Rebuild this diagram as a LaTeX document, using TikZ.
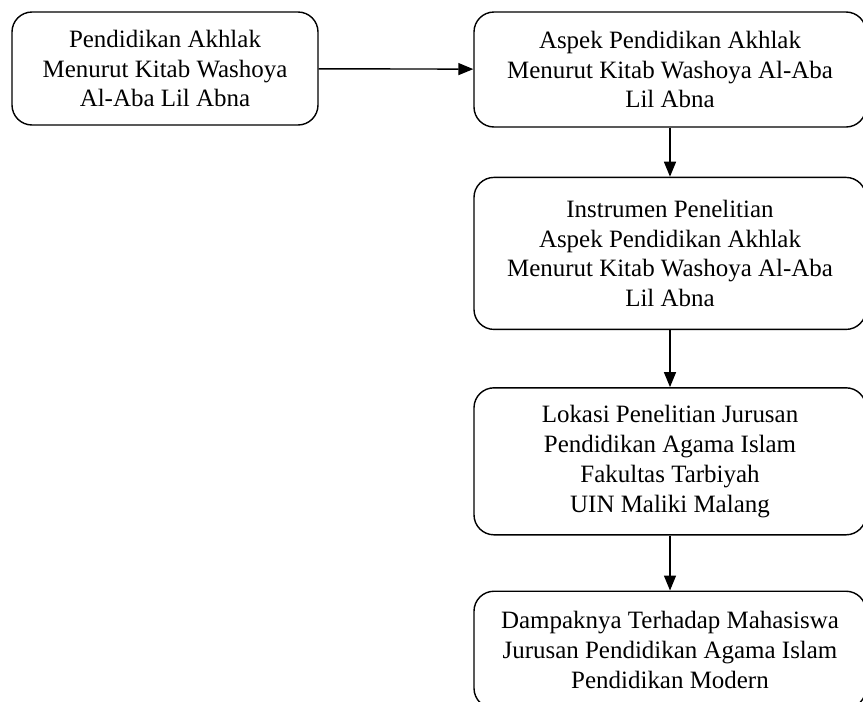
\documentclass[tikz,border=0pt]{standalone}
\usepackage{fontspec}
\setmainfont{Liberation Serif}
\usetikzlibrary{arrows.meta,positioning}

\begin{document}
\begin{tikzpicture}[node distance=1cm, auto]
        \tikzset{kotak/.style={rectangle, draw, rounded corners=0.4cm, line width=0.8pt, align=center, font=\fontsize{14.2}{17}\selectfont}}
        \tikzset{panah/.style={-{Triangle[length=0.3cm,width=0.24cm]}, line width=0.8pt}}
        \useasboundingbox (0,0) rectangle (17.26,-14.02);

        \node [kotak, minimum width=6.12cm, minimum height=2.26cm] (akhlak) at (3.3,-1.37) {Pendidikan Akhlak\\Menurut Kitab Washoya\\Al-Aba Lil Abna};
        \node [kotak, minimum width=7.84cm, minimum height=2.3cm] (aspek) at (13.4,-1.39) {Aspek Pendidikan Akhlak\\Menurut Kitab Washoya Al-Aba\\Lil Abna};
        \node [kotak, minimum width=7.84cm, minimum height=3.04cm, below=0.98cm of aspek] (instrumen) {Instrumen Penelitian\\Aspek Pendidikan Akhlak\\Menurut Kitab Washoya Al-Aba\\Lil Abna};
        \node [kotak, minimum width=7.84cm, minimum height=2.94cm, below=1.14cm of instrumen] (lokasi) {Lokasi Penelitian Jurusan\\Pendidikan Agama Islam\\Fakultas Tarbiyah\\UIN Maliki Malang};
        \node [kotak, minimum width=7.84cm, minimum height=2.34cm, below=1.1cm of lokasi] (dampak) {Dampaknya Terhadap Mahasiswa\\Jurusan Pendidikan Agama Islam\\Pendidikan Modern};

        \draw [panah] (akhlak) -- (aspek);
        \draw [panah] (aspek) -- (instrumen);
        \draw [panah] (instrumen) -- (lokasi);
        \draw [panah] (lokasi) -- (dampak);
    \end{tikzpicture}
\end{document}
